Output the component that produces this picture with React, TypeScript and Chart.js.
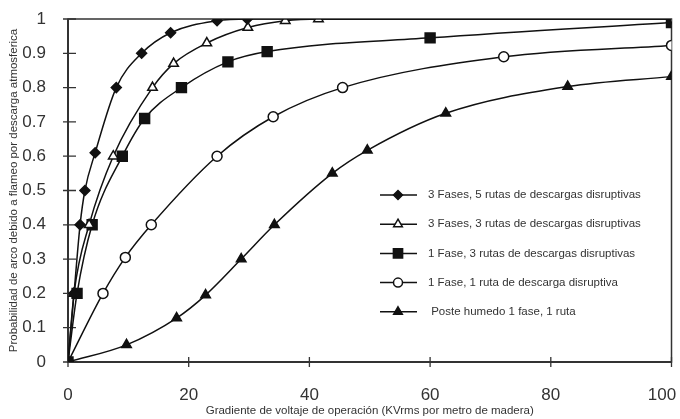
import React, { useEffect, useRef } from "react";
import { Chart, registerables } from "chart.js";

Chart.register(...registerables);

const seriesLabels = [
  "3 Fases, 5 rutas de descargas disruptivas",
  "3 Fases, 3 rutas de descargas disruptivas",
  "1 Fase, 3 rutas de descargas disruptivas",
  "1 Fase, 1 ruta de descarga disruptiva",
  " Poste humedo 1 fase, 1 ruta",
];

const s1X = [0, 1, 2, 2.8, 4.5, 8, 12.2, 17, 24.7, 29.7, 100];
const s1Y = [0, 0.2, 0.4, 0.5, 0.61, 0.8, 0.9, 0.96, 0.995, 1, 1];

const s2X = [0, 1, 3.5, 7.5, 14, 17.5, 23, 29.8, 36, 41.5, 100];
const s2Y = [0, 0.2, 0.4, 0.6, 0.8, 0.87, 0.93, 0.975, 0.995, 1, 1];

const s3X = [0, 1.5, 4, 9, 12.7, 18.8, 26.5, 33, 60, 100];
const s3Y = [0, 0.2, 0.4, 0.6, 0.71, 0.8, 0.875, 0.905, 0.945, 0.99];

const s4X = [0, 5.8, 9.5, 13.8, 24.7, 34, 45.5, 72.2, 100];
const s4Y = [0, 0.2, 0.305, 0.4, 0.6, 0.715, 0.8, 0.89, 0.923];

const s5X = [0, 9.7, 18, 22.8, 28.7, 34.2, 43.8, 49.6, 62.6, 82.8, 100];
const s5Y = [0, 0.05, 0.128, 0.195, 0.3, 0.4, 0.55, 0.617, 0.725, 0.803, 0.832];

const xTickValues = [0, 20, 40, 60, 80, 100];
const yTickValues = [0, 0.1, 0.2, 0.3, 0.4, 0.5, 0.6, 0.7, 0.8, 0.9, 1];

const xTitle = "Gradiente de voltaje de operación (KVrms por metro de madera)";
const yTitle = "Probabilidad de arco debido a flameo por descarga atmosferica";

const INK = "#111";
const TEXT = "#333";
const FONT = "'Liberation Sans', Arial, sans-serif";

const markerStyles = [
  { pointStyle: "rectRot", radius: 5, fill: INK, legendRadius: 4.5 },
  { pointStyle: "triangle", radius: 5.5, fill: "#fff", legendRadius: 5 },
  { pointStyle: "rect", radius: 7, fill: INK, legendRadius: 6.5 },
  { pointStyle: "circle", radius: 5, fill: "#fff", legendRadius: 4.5 },
  { pointStyle: "triangle", radius: 5.5, fill: INK, legendRadius: 5 },
];

const zip = (xs: number[], ys: number[]) => xs.map((x, i) => ({ x, y: ys[i] }));

const seriesData = [zip(s1X, s1Y), zip(s2X, s2Y), zip(s3X, s3Y), zip(s4X, s4Y), zip(s5X, s5Y)];

function drawMarker(ctx: CanvasRenderingContext2D, style: string, r: number, x: number, y: number) {
  ctx.beginPath();
  if (style === "circle") {
    ctx.arc(x, y, r, 0, Math.PI * 2);
  } else if (style === "rect") {
    const s = r * Math.SQRT1_2;
    ctx.rect(x - s, y - s, 2 * s, 2 * s);
  } else if (style === "rectRot") {
    ctx.moveTo(x, y - r);
    ctx.lineTo(x + r, y);
    ctx.lineTo(x, y + r);
    ctx.lineTo(x - r, y);
  } else if (style === "triangle") {
    ctx.moveTo(x, y - r);
    ctx.lineTo(x + r * 0.866, y + r * 0.5);
    ctx.lineTo(x - r * 0.866, y + r * 0.5);
  }
  ctx.closePath();
  ctx.fill();
  ctx.stroke();
}

const framePlugin = {
  id: "frame",
  beforeDatasetsDraw(chart: any) {
    const { ctx, chartArea: a, scales } = chart;
    ctx.save();
    ctx.strokeStyle = "#333";
    ctx.lineWidth = 1.5;
    ctx.strokeRect(a.left, a.top, a.right - a.left, a.bottom - a.top);
    ctx.lineWidth = 2;
    ctx.beginPath();
    ctx.moveTo(a.left, a.top);
    ctx.lineTo(a.left, a.bottom);
    ctx.lineTo(a.right, a.bottom);
    ctx.stroke();
    ctx.lineWidth = 1.3;
    ctx.beginPath();
    yTickValues.forEach((v) => {
      const py = scales.y.getPixelForValue(v);
      ctx.moveTo(a.left - 5, py);
      ctx.lineTo(a.left + 8, py);
    });
    xTickValues.forEach((v) => {
      const px = scales.x.getPixelForValue(v);
      ctx.moveTo(px, a.bottom - 5);
      ctx.lineTo(px, a.bottom + 5);
    });
    ctx.stroke();
    ctx.restore();
  },
  afterDraw(chart: any) {
    const { ctx } = chart;
    ctx.save();
    const x0 = 380;
    const x1 = 417;
    const mx = 398;
    const tx = 428;
    const y0 = 195;
    const dy = 29.2;
    chart.data.datasets.forEach((ds: any, i: number) => {
      const y = y0 + i * dy;
      const m = markerStyles[i];
      ctx.strokeStyle = INK;
      ctx.lineWidth = 1.5;
      ctx.beginPath();
      ctx.moveTo(x0, y);
      ctx.lineTo(x1, y);
      ctx.stroke();
      ctx.fillStyle = m.fill;
      drawMarker(ctx, m.pointStyle, m.legendRadius, mx, y);
      ctx.fillStyle = TEXT;
      ctx.font = `11.5px ${FONT}`;
      ctx.textAlign = "left";
      ctx.textBaseline = "middle";
      ctx.fillText(ds.label, tx, y);
    });
    ctx.restore();
  },
};

export default function App() {
  const canvasRef = useRef<HTMLCanvasElement | null>(null);

  useEffect(() => {
    document.body.style.margin = "0";
    const canvas = canvasRef.current;
    if (!canvas) return;
    const chart = new Chart(canvas, {
      type: "line",
      data: {
        datasets: seriesData.map((d, i) => ({
          label: seriesLabels[i],
          data: d,
          borderColor: INK,
          borderWidth: 1.5,
          backgroundColor: markerStyles[i].fill,
          pointBackgroundColor: markerStyles[i].fill,
          pointBorderColor: INK,
          pointBorderWidth: 1.5,
          pointStyle: markerStyles[i].pointStyle as any,
          pointRadius: markerStyles[i].radius,
          cubicInterpolationMode: "monotone" as const,
          fill: false,
        })),
      },
      options: {
        responsive: false,
        animation: false,
        devicePixelRatio: 1,
        layout: { padding: { top: 19, right: 7, left: 0, bottom: 0 } },
        plugins: {
          legend: { display: false },
          tooltip: { enabled: false },
        },
        scales: {
          x: {
            type: "linear",
            min: 0,
            max: 100,
            afterBuildTicks: (scale: any) => {
              scale.ticks = xTickValues.map((v) => ({ value: v }));
            },
            ticks: {
              color: TEXT,
              font: { family: FONT, size: 17 },
              padding: 15,
              maxRotation: 0,
              callback: (v: any) => (Number(v) === 100 ? "100    " : String(v)),
            },
            grid: { display: false },
            border: { display: false },
            title: {
              display: true,
              text: xTitle,
              color: TEXT,
              font: { family: FONT, size: 11.5 },
              padding: { top: 1, bottom: 1 },
            },
            afterFit: (scale: any) => {
              scale.height = 57;
              scale.paddingLeft = 0;
              scale.paddingRight = 0;
            },
          },
          y: {
            type: "linear",
            min: 0,
            max: 1,
            afterBuildTicks: (scale: any) => {
              scale.ticks = yTickValues.map((v) => ({ value: v }));
            },
            ticks: {
              color: TEXT,
              font: { family: FONT, size: 17 },
              padding: 14,
              callback: (v: any) => String(parseFloat(Number(v).toFixed(1))),
            },
            grid: { display: false },
            border: { display: false },
            title: {
              display: true,
              text: yTitle,
              color: TEXT,
              font: { family: FONT, size: 11.5 },
              padding: { top: 7, bottom: 7 },
            },
            afterFit: (scale: any) => {
              scale.width = 68;
              scale.paddingTop = 0;
              scale.paddingBottom = 0;
            },
          },
        },
      },
      plugins: [framePlugin],
    });
    return () => chart.destroy();
  }, []);

  return (
    <div style={{ width: 680, height: 419, background: "#fff" }}>
      <canvas ref={canvasRef} width={680} height={419} style={{ display: "block" }} />
    </div>
  );
}
